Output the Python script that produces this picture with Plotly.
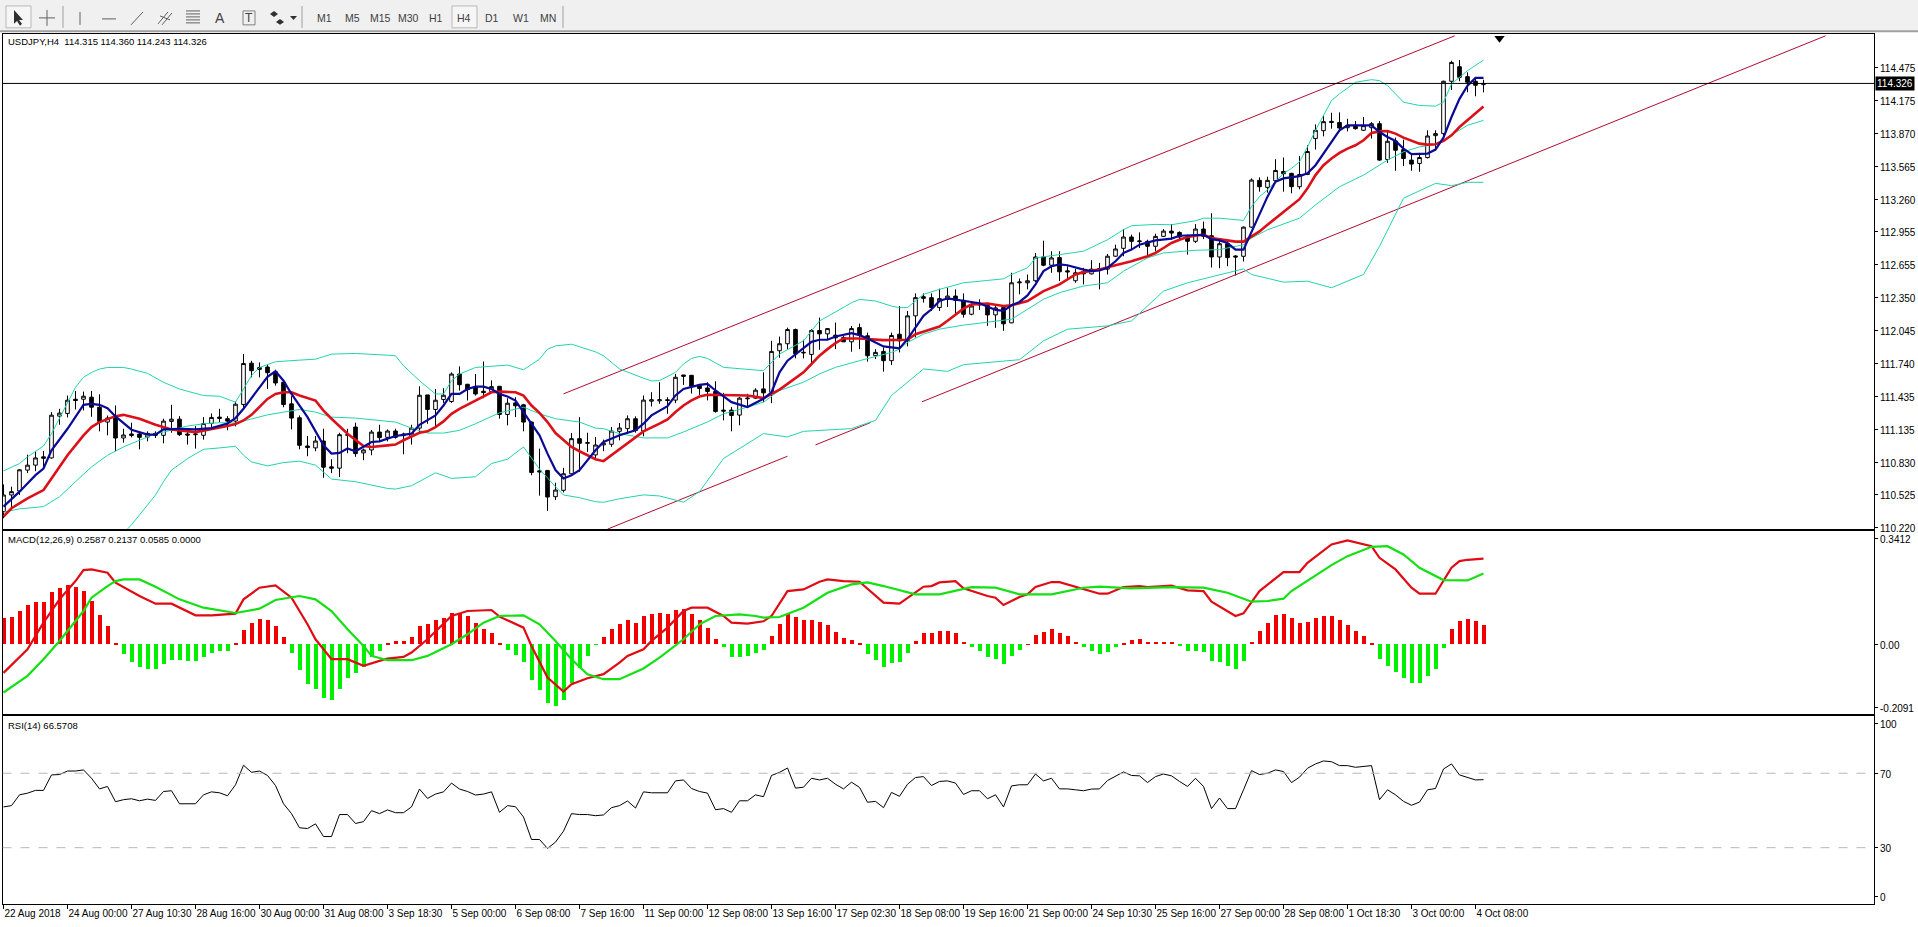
import plotly.graph_objects as go

W, H = 1918, 927
FONT = "Liberation Sans"

# ---------- price data (USDJPY H4) ----------
opens = [110.351,110.505,110.542,110.736,110.782,110.859,110.849,111.237,111.262,111.394,
111.394,111.413,111.320,111.182,111.243,111.034,111.071,111.071,111.043,111.077,
111.059,111.188,111.209,111.071,111.065,111.059,111.169,111.228,111.213,111.191,
111.345,111.729,111.671,111.693,111.649,111.551,111.351,111.222,110.960,110.942,
111.006,110.766,110.754,111.059,111.136,110.896,110.923,111.089,111.040,111.099,
111.071,111.049,111.126,111.434,111.299,111.391,111.373,111.628,111.533,111.508,
111.468,111.465,111.514,111.253,111.360,111.342,111.182,110.729,110.733,110.489,
110.548,110.702,111.028,110.985,110.877,110.970,110.976,111.096,111.121,111.213,
111.099,111.376,111.379,111.389,111.386,111.619,111.616,111.527,111.499,111.466,
111.293,111.293,111.247,111.398,111.404,111.490,111.459,111.844,111.909,112.041,
111.823,111.810,112.032,112.001,111.989,111.967,111.927,112.059,111.983,111.798,
111.838,111.752,111.998,111.937,112.168,112.346,112.337,112.245,112.322,112.352,
112.312,112.183,112.285,112.266,112.177,112.245,112.103,112.475,112.475,112.494,
112.715,112.638,112.709,112.586,112.494,112.580,112.558,112.598,112.602,112.722,
112.795,112.900,112.857,112.860,112.814,112.906,112.955,112.943,112.900,112.860,
112.974,112.912,112.715,112.838,112.724,112.721,112.992,113.426,113.361,113.423,
113.509,113.491,113.367,113.481,113.814,113.887,113.974,113.964,113.915,113.937,
113.891,113.915,113.952,113.620,113.792,113.712,113.614,113.583,113.638,113.841,
113.860,114.346,114.481,114.389,114.346,114.315]
highs = [110.603,110.582,110.745,110.880,110.914,110.914,111.274,111.305,111.428,111.471,
111.465,111.471,111.440,111.243,111.336,111.120,111.176,111.096,111.096,111.096,
111.213,111.342,111.237,111.096,111.145,111.228,111.262,111.305,111.237,111.373,
111.813,111.751,111.736,111.720,111.668,111.551,111.422,111.243,111.053,111.053,
111.120,110.837,111.083,111.120,111.176,110.936,111.108,111.157,111.114,111.120,
111.083,111.157,111.514,111.434,111.489,111.496,111.643,111.699,111.536,111.628,
111.745,111.569,111.514,111.403,111.413,111.351,111.188,110.936,110.736,110.619,
110.757,111.080,111.228,111.083,111.043,111.019,111.136,111.173,111.244,111.235,
111.429,111.459,111.552,111.413,111.629,111.619,111.619,111.536,111.552,111.561,
111.453,111.321,111.416,111.444,111.496,111.644,111.936,111.976,112.059,112.050,
111.946,112.044,112.152,112.050,112.106,111.983,112.075,112.096,112.013,111.859,
111.875,112.013,112.259,112.214,112.377,112.377,112.377,112.420,112.429,112.414,
112.377,112.282,112.322,112.291,112.275,112.266,112.568,112.515,112.552,112.752,
112.866,112.768,112.768,112.629,112.605,112.614,112.685,112.660,112.743,112.829,
112.974,112.922,112.943,112.875,112.931,112.974,113.020,112.952,112.922,113.020,
113.044,113.121,112.875,112.875,112.731,112.998,113.444,113.454,113.460,113.623,
113.638,113.497,113.651,113.752,113.946,114.029,114.054,114.057,113.998,113.977,
114.014,113.967,113.977,113.891,113.823,113.804,113.675,113.681,113.891,113.891,
114.352,114.537,114.543,114.429,114.367,114.360]
lows = [110.289,110.366,110.505,110.708,110.726,110.766,110.843,111.157,111.225,111.299,
111.289,111.231,111.096,111.059,110.911,110.991,111.040,110.929,111.003,111.034,
110.985,111.083,111.053,110.973,110.936,111.019,111.120,111.182,111.105,111.142,
111.305,111.597,111.597,111.489,111.520,111.320,111.114,110.929,110.865,110.911,
110.665,110.708,110.671,110.893,110.859,110.828,110.874,111.003,111.003,111.028,
110.883,110.973,111.089,111.166,111.126,111.360,111.360,111.474,111.382,111.428,
111.403,111.459,111.213,111.151,111.228,111.096,110.689,110.499,110.357,110.459,
110.529,110.689,110.720,110.905,110.837,110.912,110.952,111.013,111.075,111.084,
111.050,111.327,111.352,111.259,111.358,111.527,111.447,111.435,111.383,111.269,
111.198,111.096,111.152,111.315,111.398,111.367,111.358,111.779,111.859,111.773,
111.773,111.727,111.853,111.946,111.859,111.927,111.835,111.859,111.743,111.767,
111.650,111.712,111.829,111.885,111.968,112.291,112.214,112.214,112.251,112.183,
112.152,112.174,112.223,112.075,112.057,112.029,112.100,112.368,112.414,112.482,
112.629,112.568,112.491,112.506,112.475,112.460,112.552,112.414,112.552,112.715,
112.722,112.783,112.798,112.728,112.768,112.900,112.875,112.875,112.737,112.845,
112.881,112.617,112.610,112.629,112.543,112.672,112.983,113.321,113.312,113.414,
113.321,113.306,113.343,113.475,113.712,113.835,113.906,113.875,113.881,113.897,
113.884,113.814,113.607,113.589,113.515,113.558,113.515,113.506,113.629,113.721,
113.814,114.266,114.346,114.244,114.207,114.243]
closes = [110.505,110.536,110.739,110.782,110.849,110.846,111.246,111.265,111.385,111.382,
111.422,111.320,111.188,111.219,111.034,111.062,111.059,111.040,111.077,111.059,
111.191,111.209,111.065,111.062,111.071,111.169,111.225,111.216,111.191,111.348,
111.726,111.659,111.689,111.640,111.545,111.345,111.219,110.966,110.945,111.006,
110.763,110.754,111.065,111.065,110.889,110.923,111.089,111.037,111.099,111.040,
111.056,111.126,111.431,111.299,111.385,111.431,111.628,111.529,111.483,111.443,
111.456,111.511,111.253,111.357,111.333,111.182,110.714,110.720,110.486,110.551,
110.702,111.028,110.985,110.991,110.969,110.986,111.099,111.127,111.213,111.103,
111.386,111.389,111.389,111.383,111.598,111.607,111.515,111.493,111.466,111.281,
111.284,111.244,111.404,111.404,111.478,111.453,111.838,111.909,112.041,111.816,
111.829,112.032,112.001,112.050,111.964,111.927,112.050,111.989,111.798,111.829,
111.752,111.986,111.936,112.168,112.337,112.331,112.245,112.328,112.352,112.312,
112.183,112.260,112.269,112.177,112.242,112.094,112.475,112.482,112.494,112.715,
112.638,112.706,112.577,112.577,112.568,112.558,112.602,112.608,112.722,112.789,
112.900,112.860,112.863,112.814,112.906,112.955,112.937,112.900,112.860,112.974,
112.906,112.715,112.838,112.709,112.715,112.992,113.429,113.367,113.426,113.518,
113.487,113.367,113.481,113.694,113.891,113.971,113.964,113.912,113.937,113.906,
113.934,113.952,113.614,113.789,113.706,113.629,113.577,113.638,113.838,113.860,
114.346,114.521,114.383,114.337,114.309,114.326]

bars = list(range(len(closes)))

# ---------- fast MA (blue) ----------
blue_i = [0,2,4,5,6,8,10,11,12,13,14,16,18,19,20,22,24,26,28,29,30,32,33,34,35,36,38,40,41,42,43,44,46,47,49,51,52,54,55,56,57,58,59,60,61,62,63,64,65,66,67,68,69,70,71,72,73,74,
75,77,79,80,81,83,84,85,87,88,89,91,93,95,96,97,98,99,100,101,102,103,104,106,107,108,110,112,
113,114,115,116,117,118,120,122,124,125,126,127,128,129,130,131,132,133,135,136,137,138,139,140,141,142,144,146,147,149,
150,151,152,153,154,155,156,157,158,159,160,162,163,164,165,166,167,168,171,172,173,174,175,176,178,179,180,181,182,183,184,185]
blue_v = [110.397,110.536,110.689,110.751,110.920,111.120,111.342,111.351,111.342,111.311,111.234,111.111,111.065,111.065,111.114,111.120,111.114,111.126,111.169,111.219,111.305,111.505,111.603,111.653,111.566,111.443,111.228,110.966,110.889,110.896,110.936,110.911,110.997,111.003,111.053,111.074,111.157,111.243,111.336,111.443,111.443,111.489,111.511,111.511,111.489,111.443,111.419,111.382,111.274,111.166,111.059,110.889,110.736,110.659,110.689,110.736,110.828,110.920,
110.998,111.059,111.106,111.167,111.244,111.330,111.429,111.490,111.527,111.536,111.475,111.367,111.321,111.398,111.459,111.644,111.752,111.813,111.866,111.927,111.946,111.946,111.976,112.007,111.989,111.958,111.884,111.866,
111.952,112.060,112.168,112.229,112.306,112.331,112.306,112.285,112.223,112.214,112.266,112.297,112.358,112.460,112.583,112.629,112.645,112.638,112.598,112.583,112.589,112.614,112.675,112.752,112.783,112.829,112.869,112.885,112.912,112.922,
112.921,112.881,112.869,112.844,112.783,112.783,112.952,113.106,113.275,113.414,113.444,113.466,113.491,113.567,113.675,113.783,113.891,113.937,113.937,113.875,113.829,113.792,113.721,113.669,113.675,113.712,113.823,114.014,114.183,114.306,114.377,114.377]

# ---------- slow MA (red) ----------
red_i = [0,1,3,5,6,8,10,11,12,14,15,17,19,21,24,26,28,29,30,31,32,33,34,35,36,37,39,40,41,43,45,46,48,49,50,51,52,53,54,55,56,57,58,59,60,61,62,64,65,66,67,68,69,70,71,72,73,74,
75,76,77,79,80,82,83,84,85,86,87,88,90,93,95,96,97,98,100,101,102,103,104,105,107,110,112,
113,114,116,117,118,119,120,121,123,125,126,128,129,130,132,133,134,135,137,139,141,143,144,145,146,147,148,149,
150,151,152,154,155,156,157,158,159,160,161,162,163,164,165,166,167,168,169,170,171,172,173,174,175,176,177,178,179,180,181,182,183,184,185]
red_v = [110.305,110.382,110.474,110.551,110.659,110.874,111.059,111.136,111.182,111.237,111.249,111.213,111.157,111.114,111.089,111.114,111.145,111.163,111.197,111.249,111.320,111.397,111.443,111.459,111.459,111.428,111.382,111.289,111.213,111.074,110.960,110.951,110.966,110.973,111.013,111.049,111.083,111.096,111.136,111.188,111.259,111.305,111.342,111.382,111.419,111.459,111.465,111.459,111.428,111.336,111.268,111.182,111.080,111.013,110.951,110.911,110.874,110.837,
110.819,110.875,110.936,111.044,111.096,111.167,111.207,111.275,111.336,111.383,111.419,111.435,111.435,111.429,111.404,111.444,111.484,111.536,111.644,111.721,111.798,111.859,111.915,111.958,111.958,111.943,111.946,
111.946,111.998,112.045,112.069,112.122,112.183,112.235,112.275,112.282,112.260,112.266,112.306,112.352,112.398,112.460,112.506,112.552,112.574,112.598,112.638,112.675,112.722,112.752,112.798,112.845,112.875,112.900,112.912,
112.921,112.891,112.881,112.857,112.857,112.906,112.952,113.014,113.075,113.137,113.198,113.251,113.352,113.475,113.567,113.629,113.681,113.721,113.752,113.798,113.866,113.881,113.884,113.860,113.823,113.792,113.767,113.758,113.761,113.792,113.844,113.921,113.983,114.044,114.112]

# ---------- Bollinger bands ----------
upper_i = [0,2,3,5,6,7,8,9,10,11,12,13,15,16,18,20,22,24,25,27,28,29,30,31,32,34,37,39,41,44,48,49,50,52,54,55,56,57,59,63,65,67,68,69,71,73,74,
75,77,80,81,82,84,85,86,87,88,90,94,95,97,100,101,102,104,106,107,109,111,112,
113,115,117,120,123,125,126,128,129,131,135,138,140,141,144,146,149,
150,152,155,156,157,158,159,160,161,162,163,164,165,166,167,169,171,172,173,175,177,179,180,181,183,185]
upper_v = [110.729,110.797,110.859,110.960,111.074,111.213,111.366,111.505,111.597,111.643,111.674,111.689,111.689,111.674,111.634,111.551,111.489,111.449,111.428,111.422,111.397,111.366,111.489,111.613,111.689,111.742,111.757,111.766,111.813,111.819,111.803,111.797,111.705,111.566,111.443,111.443,111.566,111.628,111.689,111.711,111.668,111.766,111.859,111.889,111.905,111.859,111.834,
111.798,111.675,111.589,111.564,111.567,111.644,111.721,111.773,111.792,111.773,111.690,111.669,111.659,111.813,111.936,112.029,112.121,112.204,112.290,112.321,112.306,112.259,112.244,
112.245,112.368,112.414,112.475,112.497,112.512,112.552,112.614,112.706,112.728,112.768,112.875,112.968,113.005,113.017,113.014,113.051,
113.075,113.075,113.054,113.183,113.275,113.337,113.414,113.491,113.537,113.598,113.737,113.891,114.029,114.167,114.229,114.337,114.361,114.352,114.306,114.152,114.121,114.115,114.152,114.321,114.444,114.543]

mid_i = [0,2,5,6,7,9,11,13,15,17,19,20,23,25,27,29,31,33,35,37,39,41,44,46,49,51,53,55,57,59,61,62,65,67,69,72,74,
75,77,80,83,85,88,90,93,95,97,100,102,104,107,111,112,
113,115,117,120,123,126,128,130,132,135,138,140,143,145,149,
150,152,155,156,158,162,164,167,170,173,175,177,179,182,183,185]
mid_v = [110.345,110.376,110.397,110.443,110.489,110.628,110.766,110.874,110.951,111.013,111.074,111.089,111.145,111.166,111.176,111.173,111.213,111.249,111.274,111.299,111.274,111.228,111.219,111.206,111.182,111.126,111.080,111.080,111.105,111.166,111.237,111.268,111.320,111.259,111.213,111.182,111.126,
111.121,111.075,111.035,111.035,111.090,111.183,111.259,111.321,111.367,111.475,111.552,111.629,111.690,111.752,111.829,111.859,
111.922,111.998,112.045,112.082,112.106,112.137,112.229,112.322,112.383,112.445,112.475,112.583,112.706,112.752,112.777,
112.777,112.783,112.829,112.891,112.967,113.075,113.198,113.367,113.475,113.614,113.691,113.737,113.758,113.891,113.937,113.983]

lower_i = [15,16,17,19,20,21,23,25,27,29,30,31,33,35,37,39,41,44,48,49,51,54,56,59,61,63,65,67,69,70,72,74,75,77,
80,82,85,87,90,95,98,100,106,109,111,115,118,120,127,130,133,138,141,145,148,155,156,160,163,166,170,172,175,179,181,183,185]
lower_v = [110.151,110.228,110.320,110.505,110.628,110.736,110.843,110.929,110.942,110.957,110.874,110.812,110.775,110.806,110.819,110.782,110.653,110.628,110.566,110.560,110.591,110.711,110.659,110.674,110.797,110.837,110.951,110.745,110.582,110.505,110.480,110.443,110.437,110.470,
110.506,110.496,110.438,110.536,110.844,111.075,111.044,111.096,111.121,111.198,111.429,111.675,111.653,111.715,111.761,111.936,112.044,112.075,112.121,112.398,112.475,112.604,112.552,112.481,112.490,112.429,112.552,112.814,113.260,113.398,113.377,113.408,113.408]

# ---------- channel trend lines ----------
chan_up_i = [70, 181.4]
chan_up_v = [111.444, 114.768]
chan_lo_i = [75.5, 98, None, 101.5, 108.4, None, 114.8, 227.75]
chan_lo_v = [110.188, 110.865, None, 110.970, 111.178, None, 111.370, 114.768]

last_price = 114.326
arrow_i = [187]
arrow_v = [114.745]

price_labels = ["114.475","114.175","113.870","113.565","113.260","112.955","112.655","112.350","112.045","111.740","111.435","111.135","110.830","110.525","110.220"]
price_ticks = [114.475,114.170,113.864,113.559,113.253,112.948,112.643,112.337,112.032,111.727,111.421,111.116,110.811,110.505,110.200]

# ---------- MACD ----------
macd_hist = [.079,.084,.101,.119,.129,.129,.159,.171,.179,.173,.161,.131,.089,.056,.005,-.029,-.054,-.069,-.075,-.075,
-.059,-.047,-.047,-.049,-.049,-.039,-.027,-.021,-.019,.002,.045,.066,.078,.075,.057,.021,-.025,-.077,-.119,-.135,
-.162,-.167,-.135,-.101,-.086,-.067,-.039,-.019,.003,.011,.011,.021,.057,.063,.073,.079,.096,.093,.085,.066,
.048,.036,.002,-.017,-.033,-.053,-.107,-.137,-.176,-.185,-.167,-.117,-.071,-.036,-.001,.021,.048,.061,.074,.066,
.086,.093,.096,.091,.103,.106,.091,.073,.051,.016,-.009,-.037,-.037,-.035,-.027,-.017,.025,.061,.091,.084,
.073,.075,.069,.059,.039,.018,.013,.002,-.029,-.047,-.067,-.057,-.054,-.026,.009,.033,.036,.042,.042,.033,
.008,-.007,-.020,-.039,-.045,-.059,-.034,-.017,.001,.027,.039,.048,.036,.025,.006,-.009,-.021,-.029,-.024,-.009,
.005,.013,.015,.008,.008,.008,.007,-.006,-.019,-.019,-.024,-.049,-.054,-.065,-.074,-.051,.008,.041,.066,.089,
.093,.079,.066,.069,.079,.087,.087,.075,.060,.042,.025,.005,-.044,-.065,-.083,-.102,-.116,-.116,-.095,-.075,
-.011,.048,.071,.078,.072,.0585]

macd_i = [0,3,5,7,9,10,11,13,14,17,19,21,24,26,29,30,32,34,36,38,39,41,43,45,47,48,50,51,53,55,56,58,61,62,65,66,68,70,71,73,75,77,78,80,
81,83,85,86,88,90,91,93,95,96,98,100,102,103,105,107,110,112,115,116,117,119,120,123,124,125,127,128,129,131,132,137,138,140,142,143,146,148,150,151,153,154,155,157,
160,162,163,166,168,171,172,174,176,177,179,181,182,183,185]
macd_v = [-.085,-.014,.066,.136,.191,.224,.226,.216,.186,.146,.123,.123,.088,.088,.093,.136,.171,.178,.141,.061,.016,-.044,-.044,-.064,-.049,-.042,-.037,-.024,.016,.061,.086,.101,.104,.084,.051,-.004,-.099,-.141,-.119,-.101,-.089,-.054,-.034,-.014,
.011,.051,.101,.111,.111,.086,.066,.063,.070,.086,.161,.166,.189,.196,.191,.189,.126,.123,.174,.176,.187,.191,.169,.146,.141,.119,.143,.151,.173,.188,.188,.153,.153,.173,.176,.173,.177,.163,.161,.129,.101,.086,.094,.161,
.218,.218,.246,.301,.313,.296,.261,.226,.171,.153,.153,.231,.251,.255,.2587]

signal_i = [0,3,5,7,10,11,13,14,15,17,19,22,25,27,29,32,34,37,39,41,43,45,46,48,51,53,56,58,60,62,65,67,69,71,73,75,77,80,
82,85,87,89,92,94,95,97,100,103,106,108,110,114,117,121,124,127,131,135,137,141,146,150,153,156,158,160,
161,166,168,171,173,175,177,180,183,185]
signal_v = [-.144,-.094,-.044,.011,.101,.141,.176,.191,.196,.196,.174,.136,.111,.104,.095,.108,.134,.146,.136,.101,.046,-.004,-.034,-.047,-.047,-.034,.001,.031,.066,.086,.088,.061,.011,-.044,-.089,-.104,-.104,-.072,
-.039,.016,.061,.086,.091,.086,.081,.083,.111,.156,.181,.187,.176,.151,.151,.173,.171,.151,.151,.171,.174,.169,.173,.171,.156,.129,.131,.138,
.161,.239,.266,.294,.296,.271,.231,.194,.193,.2137]

# ---------- RSI ----------
rsi_v = [51.9,52.6,58.4,59.3,60.8,60.8,69.1,69.3,71.2,71.2,71.8,67.3,61.6,62.9,54.7,55.8,56.3,55.2,56.1,55.4,
60.2,60.6,53.6,53.6,53.6,58.4,60.0,59.5,57.9,63.8,74.3,70.5,71.2,68.8,63.4,53.6,48.3,40.7,40.3,42.8,
36.0,36.0,47.8,47.8,43.0,44.0,49.9,48.3,50.3,48.8,48.8,51.9,61.5,56.5,58.8,60.0,64.7,61.5,60.2,58.3,
58.8,60.0,49.0,52.6,52.0,46.5,34.4,34.4,29.6,33.0,38.9,48.3,47.8,47.8,47.2,47.6,51.5,52.6,55.1,51.3,
60.0,59.5,59.5,59.5,65.9,66.4,61.8,60.2,59.3,50.4,51.0,49.0,55.2,55.2,58.4,57.4,68.8,70.5,72.8,62.0,
62.5,67.3,66.4,67.3,64.1,61.6,65.2,62.4,54.4,54.9,51.5,59.7,57.6,64.1,67.7,68.2,63.4,65.6,65.9,64.7,
58.6,60.6,60.6,56.3,58.4,51.9,63.2,63.8,63.8,69.6,65.9,67.3,61.6,61.6,61.1,60.6,61.5,61.6,66.1,68.6,
70.7,68.8,68.6,65.0,68.2,69.6,68.6,65.6,62.9,67.3,62.9,51.0,56.7,51.0,51.0,61.1,71.4,69.3,70.0,71.8,
70.9,65.0,67.9,72.7,75.0,76.6,76.2,74.1,74.1,73.2,73.6,74.1,55.8,61.1,58.4,54.9,52.8,54.5,61.1,61.8,
72.3,75.0,69.1,67.9,66.4,66.5708]

# ---------- time axis ----------
time_ticks = list(range(0, 185, 8))
time_labels = ["22 Aug 2018","24 Aug 00:00","27 Aug 10:30","28 Aug 16:00","30 Aug 00:00","31 Aug 08:00",
"3 Sep 18:30","5 Sep 00:00","6 Sep 08:00","7 Sep 16:00","11 Sep 00:00","12 Sep 08:00","13 Sep 16:00",
"17 Sep 02:30","18 Sep 08:00","19 Sep 16:00","21 Sep 00:00","24 Sep 10:30","25 Sep 16:00","27 Sep 00:00",
"28 Sep 08:00","1 Oct 18:30","3 Oct 00:00","4 Oct 08:00"]

# ---------- layout helpers ----------
PX, PR = 2.5, 1874.0
def px(v): return v / W
def py(v): return 1 - v / H
def dom(top, bot): return [py(bot), py(top)]

X_RANGE = [(PX - 3.5) / 8, (PR - 3.5) / 8]
BLACK = "#000000"
CYAN, RED_MA, BLUE_MA, CHAN = "#22D4AC", "#DC1018", "#0A0A96", "#B00C2C"

fig = go.Figure()
fig.add_trace(go.Scatter(x=chan_up_i, y=chan_up_v, mode="lines", line=dict(color=CHAN, width=1)))
fig.add_trace(go.Scatter(x=chan_lo_i, y=chan_lo_v, mode="lines", line=dict(color=CHAN, width=1)))
fig.add_trace(go.Candlestick(x=bars, open=opens, high=highs, low=lows, close=closes, whiskerwidth=0,
    increasing=dict(line=dict(color=BLACK, width=1), fillcolor="#FFFFFF"),
    decreasing=dict(line=dict(color=BLACK, width=1), fillcolor=BLACK)))
for xs, ys in ((upper_i, upper_v), (mid_i, mid_v), (lower_i, lower_v)):
    fig.add_trace(go.Scatter(x=xs, y=ys, mode="lines", line=dict(color=CYAN, width=1)))
fig.add_trace(go.Scatter(x=red_i, y=red_v, mode="lines", line=dict(color=RED_MA, width=2.6)))
fig.add_trace(go.Scatter(x=blue_i, y=blue_v, mode="lines", line=dict(color=BLUE_MA, width=2.2)))
fig.add_trace(go.Scatter(x=arrow_i, y=arrow_v, mode="markers",
    marker=dict(symbol="triangle-down", size=9, color=BLACK)))

fig.add_trace(go.Bar(x=bars, y=macd_hist, width=0.62, xaxis="x2", yaxis="y2",
    marker=dict(color=["#F00000" if v >= 0 else "#00F000" for v in macd_hist], line=dict(width=0))))
fig.add_trace(go.Scatter(x=macd_i, y=macd_v, xaxis="x2", yaxis="y2", mode="lines", line=dict(color="#E00C14", width=2.2)))
fig.add_trace(go.Scatter(x=signal_i, y=signal_v, xaxis="x2", yaxis="y2", mode="lines", line=dict(color="#14E014", width=2.2)))

fig.add_trace(go.Scatter(x=bars, y=rsi_v, xaxis="x3", yaxis="y3", mode="lines", line=dict(color=BLACK, width=1)))

axis_font = dict(family=FONT, size=10, color=BLACK)
common_x = dict(range=X_RANGE, domain=[px(PX), px(PR)], showgrid=False, zeroline=False,
                showline=True, linecolor=BLACK, linewidth=1, mirror=True, rangeslider=dict(visible=False))
common_y = dict(side="right", showgrid=False, zeroline=False, showline=True, linecolor=BLACK,
                linewidth=1, mirror=True, ticks="outside", ticklen=3, tickcolor=BLACK, tickfont=axis_font,
                ticklabelshift=1)

shapes = []
def rect(x0, y0, x1, y1, fill="#F0F0F0", line=None, width=1):
    shapes.append(dict(type="rect", xref="paper", yref="paper", x0=px(x0), x1=px(x1), y0=py(y0), y1=py(y1),
                       fillcolor=fill, line=dict(color=line or fill, width=width if line else 0), layer="below"))
def seg(x0, y0, x1, y1, color="#606060", width=1):
    shapes.append(dict(type="line", xref="paper", yref="paper", x0=px(x0), x1=px(x1), y0=py(y0), y1=py(y1),
                       line=dict(color=color, width=width)))

# toolbar strip
rect(0, 0, W, 31)
seg(0, 31.5, W, 31.5, "#A0A0A0", 2)
for xs in (63, 302, 563):
    seg(xs, 6, xs, 28, "#A0A0A0", 1)
rect(6, 6, 31, 28, "#F6F6F6", "#B8B8B8")
rect(452, 6, 477, 28, "#F6F6F6", "#B8B8B8")
seg(47, 10, 47, 26); seg(39, 18, 55, 18)
seg(80, 12, 80, 25)
seg(102, 19, 116, 19)
seg(131, 25, 143, 12)
seg(158, 24, 168, 12); seg(162, 25, 172, 13); seg(160, 16, 170, 20)
for yy in (11, 14, 17, 20, 23):
    seg(186, yy, 200, yy, "#606060", 1)
rect(243, 11, 255, 25, "#F0F0F0", "#808080")
shapes.append(dict(type="path", xref="paper", yref="paper",
    path=f"M {px(14)} {py(10)} L {px(14)} {py(24)} L {px(17)} {py(21)} L {px(20)} {py(26)} L {px(22)} {py(24)} L {px(19)} {py(20)} L {px(23)} {py(20)} Z",
    fillcolor="#303030", line=dict(width=0)))
shapes.append(dict(type="path", xref="paper", yref="paper",
    path=f"M {px(270)} {py(14)} L {px(274)} {py(11)} L {px(278)} {py(14)} L {px(274)} {py(17)} Z M {px(276)} {py(22)} L {px(280)} {py(19)} L {px(284)} {py(22)} L {px(280)} {py(25)} Z M {px(290)} {py(16)} L {px(297)} {py(16)} L {px(293.5)} {py(20)} Z",
    fillcolor="#303030", line=dict(width=0)))

for lvl in (70, 30):
    shapes.append(dict(type="line", xref="x3", yref="y3", x0=X_RANGE[0], x1=X_RANGE[1], y0=lvl, y1=lvl,
                       line=dict(color="#B8B8B8", width=1, dash="dash")))
shapes.append(dict(type="line", xref="x", yref="y", x0=X_RANGE[0], x1=X_RANGE[1], y0=last_price, y1=last_price,
                   line=dict(color=BLACK, width=1)))

annotations = []
def label(text, x, y, color=BLACK, size=9.5, anchor="left", pad=0, **kw):
    annotations.append(dict(text=text, xref="paper", yref="paper", x=px(x), y=py(y), xanchor=anchor, yanchor="middle",
                            showarrow=False, font=dict(family=FONT, size=size, color=color), borderpad=pad, **kw))

label("USDJPY,H4&nbsp;&nbsp;114.315 114.360 114.243 114.326", 7, 42)
label("MACD(12,26,9) 0.2587 0.2137 0.0585 0.0000", 7, 542)
label("RSI(14) 66.5708", 7, 729)
for name, xc in (("M1", 324), ("M5", 352), ("M15", 380), ("M30", 408), ("H1", 436),
                 ("H4", 464), ("D1", 492), ("W1", 521), ("MN", 548)):
    label(name, xc, 18.5, color="#404040", size=10.5, anchor="center")
label("A", 220, 18.5, color="#404040", size=14, anchor="center")
label("T", 249, 18.5, color="#404040", size=12, anchor="center")
label("114.326", 1895, 84, color="#FFFFFF", size=10, anchor="center", pad=1, bgcolor=BLACK)

fig.update_layout(
    width=W, height=H, margin=dict(l=0, r=0, t=0, b=0, pad=0), autosize=False,
    paper_bgcolor="#FFFFFF", plot_bgcolor="#FFFFFF", showlegend=False, hovermode=False,
    bargap=0, boxgap=0.35, shapes=shapes, annotations=annotations,
    xaxis=dict(common_x, anchor="y", showticklabels=False, ticks=""),
    xaxis2=dict(common_x, anchor="y2", showticklabels=False, ticks=""),
    xaxis3=dict(common_x, anchor="y3", tickmode="array", tickvals=time_ticks, ticktext=time_labels,
                ticks="outside", ticklen=4, tickcolor=BLACK, tickfont=axis_font,
                ticklabelposition="outside right", tickangle=0),
    yaxis=dict(common_y, anchor="x", domain=dom(34.5, 532), range=[110.188, 114.782],
               tickmode="array", tickvals=price_ticks, ticktext=price_labels),
    yaxis2=dict(common_y, anchor="x2", domain=dom(534, 718), range=[-0.2091, 0.3412],
                tickmode="array", tickvals=[0.318, 0.0, -0.1885], ticktext=["0.3412", "0.00", "-0.2091"]),
    yaxis3=dict(common_y, anchor="x3", domain=dom(720, 908.6), range=[-0.1, 100.7],
                tickmode="array", tickvals=[96.7, 70, 30, 3.9], ticktext=["100", "70", "30", "0"]),
)

fig.write_html("out.html", config=dict(displayModeBar=False),
               post_script="document.body.style.margin='0';document.body.style.overflow='hidden';")
